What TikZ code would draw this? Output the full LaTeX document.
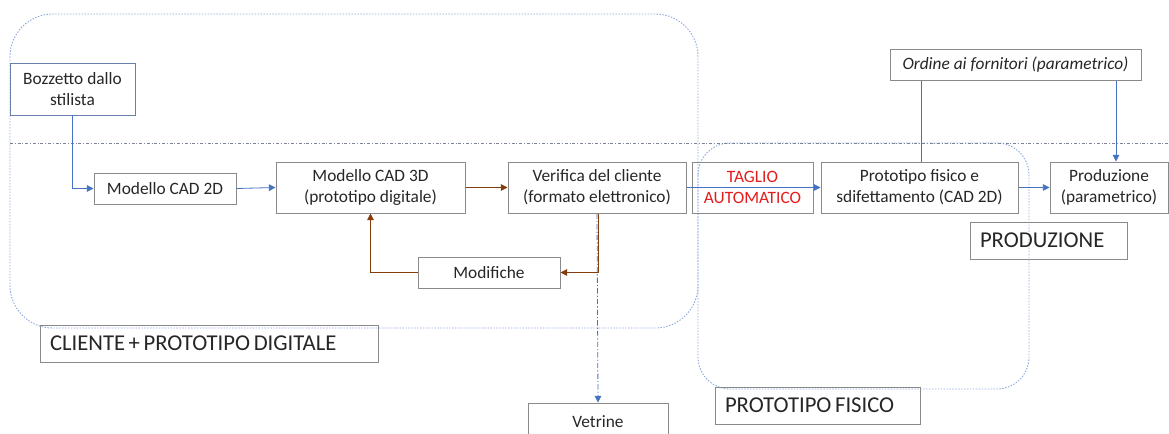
\documentclass[tikz,border=0pt]{standalone}
\usepackage{fontspec}
\setmainfont{Carlito}
\usetikzlibrary{arrows.meta,calc}
\definecolor{arrblue}{HTML}{4472C4}
\definecolor{arrbrown}{HTML}{843C0C}
\definecolor{zoneblue}{HTML}{8EA9DB}
\definecolor{sepgray}{HTML}{7C8598}
\definecolor{boxgray}{HTML}{8A8A8A}
\definecolor{bozzblue}{HTML}{6A7FAE}
\definecolor{redtxt}{HTML}{E41B1B}
\definecolor{txt}{HTML}{262626}
\newcommand\zonetight{\spaceskip=0.16em\relax}
\tikzset{
  base/.style={draw=boxgray, line width=0.75pt, inner sep=0pt, align=center,
    font=\fontsize{13}{15.8}\selectfont, text=txt},
  zonelabel/.style={draw=boxgray, line width=0.75pt, inner sep=0pt, minimum height=27.75pt,
    font=\fontsize{17}{20}\selectfont, text=txt, align=left},
  zone/.style={draw=zoneblue, line width=0.7pt, dash pattern=on 1.1pt off 1.1pt},
  sep/.style={draw=sepgray, line width=0.6pt, dash pattern=on 2.2pt off 1.4pt on 0.7pt off 1.4pt},
  bluearr/.style={draw=arrblue, line width=0.6pt, -{Triangle[length=5pt,width=5pt]}},
  brownarr/.style={draw=arrbrown, line width=0.6pt, -{Triangle[length=5pt,width=5pt]}},
  blueline/.style={draw=arrblue, line width=0.6pt},
}
\begin{document}
\begin{tikzpicture}[x=0.75pt,y=-0.75pt]
\useasboundingbox (0,0) rectangle (1169,433);
% zones
\draw[zone, rounded corners=32pt] (10,14) rectangle (698,328);
\draw[zone, rounded corners=24pt] (698,143) rectangle (1029,389);
\draw[sep] (10,143) -- (1169,143);
% nodes
\node[base, draw=bozzblue, line width=0.6pt, minimum width=93.75pt, minimum height=39pt] (bozz) at (72.5,89) {Bozzetto dallo\\stilista};
\node[base, minimum width=106.5pt, minimum height=23.25pt] (cad2d) at (165,188.5) {Modello CAD 2D};
\node[base, minimum width=141.75pt, minimum height=38.25pt] (cad3d) at (370.5,187.5) {Modello CAD 3D\\(prototipo digitale)};
\node[base, minimum width=133.5pt, minimum height=38.25pt] (verifica) at (597,187.5) {Verifica del cliente\\(formato elettronico)};
\node[base, minimum width=90.75pt, minimum height=38.25pt, text=redtxt] (taglio) at (752.5,187.5) {TAGLIO\\AUTOMATICO};
\node[base, minimum width=147.75pt, minimum height=38.25pt] (protofis) at (919.5,187.5) {Prototipo fisico e\\sdifettamento (CAD 2D)};
\node[base, minimum width=88.5pt, minimum height=38.25pt] (produzione) at (1109,187.5) {Produzione\\(parametrico)};
\node[base, minimum width=188.25pt, minimum height=23.25pt, font=\fontsize{13}{15.8}\selectfont\itshape] (ordine) at (1015.5,64.5) {Ordine ai fornitori (parametrico)};
\node[base, minimum width=106.5pt, minimum height=23.25pt] (modifiche) at (489,272.5) {Modifiche};
\node[base, minimum width=105pt, minimum height=27.75pt] (vetrine) at (598,421.5) {Vetrine};
\node[zonelabel, text width=238.5pt, inner xsep=7.5pt] (lcliente) at (209,343.5) {\zonetight CLIENTE + PROTOTIPO DIGITALE};
\node[zonelabel, text width=138.75pt, inner xsep=7.5pt] (lfisico) at (817.5,405.5) {\zonetight PROTOTIPO FISICO};
\node[zonelabel, text width=102.75pt, inner xsep=7.5pt] (lprod) at (1048.5,240.5) {PRODUZIONE};
% connectors
\draw[bluearr] (bozz.south) |- (cad2d.west);
\draw[bluearr] (cad2d.east) -- (cad3d.west);
\draw[brownarr] (cad3d.east) -- (verifica.west);
\draw[brownarr] ($(verifica.south)+(1,0)$) |- (modifiche.east);
\draw[brownarr] (modifiche.west) -| (cad3d.south);
\draw[bluearr, dash pattern=on 4pt off 1.5pt on 1pt off 1.5pt] (verifica.south) -- (vetrine.north);
\draw[bluearr] (verifica.east) -- (protofis.west);
\draw[bluearr] (protofis.east) -- (produzione.west);
\coordinate (oA) at ($(ordine.south)+(-94.5,0)$);
\coordinate (oB) at ($(ordine.south)+(100.5,0)$);
\draw[blueline] (oA) -- (oA |- protofis.north);
\draw[bluearr] (oB) -- (oB |- produzione.north);
\end{tikzpicture}
\end{document}
